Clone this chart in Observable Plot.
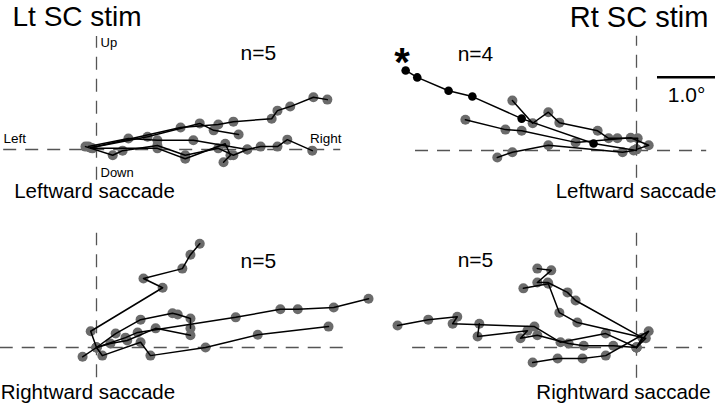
<!DOCTYPE html>
<html><head><meta charset="utf-8">
<script src="https://cdn.jsdelivr.net/npm/d3@7"></script>
<script src="https://cdn.jsdelivr.net/npm/@observablehq/plot@0.6"></script>
<style>
body{margin:0;background:#fff;}
#fig{position:relative;width:720px;height:407px;overflow:hidden;background:#fff;font-family:"Liberation Sans",Arial,sans-serif;}
#fig svg{position:absolute;overflow:visible;}
</style></head><body><div id="fig"></div>
<script>
// eye position traces (degrees), each trace = list of [horizontal, vertical]
const ltLeftward = [
 [[-0.10,0.03],[1.45,0.38],[2.10,0.43],[2.36,0.48],[3.02,0.53],[3.12,0.67],[3.34,0.74],[3.74,0.90],[3.98,0.86]],
 [[-0.10,0.03],[0.88,0.22],[1.78,0.45],[2.02,0.33],[2.45,0.26]],
 [[-0.14,0.05],[0.55,0.19],[1.05,0.16],[1.67,0.16],[2.60,0.00],[2.83,0.05],[3.12,0.05],[3.29,0.17],[3.72,-0.02]],
 [[-0.19,0.05],[0.28,-0.10],[0.45,-0.02],[1.05,0.07],[1.53,-0.10],[2.10,0.02],[2.36,-0.10],[2.60,0.00]],
 [[-0.07,0.02],[1.05,0.02],[1.53,-0.16],[2.22,0.10],[2.31,-0.10],[2.19,-0.22]]
];
const rtLeftward = [
 [[0,0],[-0.74,0.12],[-1.98,0.55],[-2.83,0.93],[-3.24,1.03],[-3.78,1.26],[-3.98,1.38]],
 [[0,0.02],[0.02,0.21],[-0.33,0.21],[-0.48,0.21],[-0.67,0.34],[-1.33,0.48],[-1.52,0.66],[-1.79,0.47],[-2.14,0.86]],
 [[0,0.02],[0.21,0.09],[-0.10,0.22],[-1.05,0.14],[-1.98,0.34],[-2.26,0.36],[-2.95,0.53]],
 [[-0.05,0],[-0.24,-0.03],[-1.52,0.09],[-2.14,-0.03],[-2.40,-0.12]]
];
const rtLeftwardStarred = 0; // trace drawn with black dots (*)
const ltRightward = [
 [[-0.24,-0.16],[0,0],[-0.10,0.28],[1.14,1.03],[0.81,1.19],[1.48,1.36],[1.62,1.60],[1.78,1.79]],
 [[0,0],[0.33,0.24],[0.76,0.48],[1.31,0.59],[1.40,0.57],[1.62,0.50],[1.62,0.33]],
 [[0,0],[0.24,0.07],[0.53,0.12],[1.02,0.33],[1.62,0.21]],
 [[0,0],[0.50,0.17],[0.71,0.26],[2.40,0.52],[3.17,0.66],[3.47,0.66],[4.09,0.69],[4.69,0.84]],
 [[0,0],[0.10,-0.14],[0.76,0.09],[0.93,-0.14],[1.88,0],[2.78,0.22],[4.00,0.36]]
];
const rtRightward = [
 [[0,0],[0.10,0.17],[-1.05,0.81],[-1.19,0.95],[-1.53,1.12],[-1.71,1.12],[-1.47,1.33],[-1.71,1.36]],
 [[0,0],[0.16,0.16],[-1.02,0.43],[-1.33,0.60],[-1.52,1.10],[-1.95,1.02]],
 [[0,0],[-0.53,0.24],[-1.31,0.09],[-1.76,0.36],[-3.17,0.41],[-3.09,0.53],[-3.59,0.48],[-4.12,0.38]],
 [[0,0],[-0.40,0.03],[-0.91,0.03],[-1.17,0.07],[-1.71,0.21],[-2.00,0.16],[-1.88,0.29],[-2.74,0.19],[-2.71,0.41]],
 [[0,0],[0.21,0.28],[-0.53,-0.14],[-0.93,-0.19],[-1.36,-0.19],[-1.79,-0.26]]
];
const columnTitles = ["Lt SC stim", "Rt SC stim"];
const rowLabels = ["Leftward saccade", "Rightward saccade"];
const counts = ["n=5", "n=4", "n=5", "n=5"];
const directionLabels = ["Up", "Down", "Left", "Right"];
const scaleBarDeg = 1.0;

const PX = 58; // pixels per degree
const FONT = "'Liberation Sans', Arial, sans-serif";

function rows(traces, black) {
  return traces.flatMap((tr, k) => tr.map(([x, y], i) => ({trace: k, i, x, y, black: k === black})));
}

function panel(cfg) {
  const data = rows(cfg.traces, cfg.black);
  const dash = {stroke: "#555", strokeWidth: 1.3, strokeDasharray: "13,9"};
  const marks = [
    Plot.ruleY([0], {x1: cfg.h[0], x2: cfg.h[1], ...dash}),
    Plot.ruleX([0], {y1: cfg.v[0], y2: cfg.v[1], ...dash}),
    Plot.dot(data.filter(d => !d.black), {x: "x", y: "y", r: 5, fill: "#6b6b6b", stroke: "none"}),
    Plot.line(data, {x: "x", y: "y", z: "trace", stroke: "#000", strokeWidth: 1.5}),
    Plot.dot(data.filter(d => d.black && d.i > 0), {x: "x", y: "y", r: 4.3, fill: "#000", stroke: "none"})
  ];
  for (const a of cfg.texts) {
    marks.push(Plot.text([a], {x: a.x, y: a.y, text: d => d.t, fontSize: a.size, textAnchor: a.anchor || "middle",
      lineAnchor: a.line || "middle", fontWeight: a.weight || "normal", fill: "#000"}));
  }
  if (cfg.bar) marks.push(Plot.ruleY([cfg.bar.y], {x1: cfg.bar.x, x2: cfg.bar.x + scaleBarDeg, stroke: "#000", strokeWidth: 2.4}));
  const svg = Plot.plot({
    width: 360, height: cfg.height, margin: 0,
    x: {domain: [-cfg.ox / PX, (360 - cfg.ox) / PX], axis: null},
    y: {domain: [-(cfg.height - cfg.oy) / PX, cfg.oy / PX], axis: null},
    style: {fontFamily: FONT, background: "transparent", overflow: "visible"},
    marks
  });
  svg.style.left = cfg.left + "px";
  svg.style.top = cfg.top + "px";
  document.getElementById("fig").appendChild(svg);
}

panel({traces: ltLeftward, left: 0, top: 0, height: 203, ox: 96, oy: 149,
  h: [-1.60, 4.21], v: [-0.53, 1.95],
  texts: [
    {t: columnTitles[0], x: -1.448, y: 2.276, size: 28, anchor: "start"},
    {t: counts[0], x: 2.79, y: 1.655, size: 21},
    {t: directionLabels[0], x: 0.069, y: 1.845, size: 13, anchor: "start"},
    {t: directionLabels[1], x: 0.069, y: -0.40, size: 13, anchor: "start"},
    {t: directionLabels[2], x: -1.603, y: 0.19, size: 13.5, anchor: "start"},
    {t: directionLabels[3], x: 4.224, y: 0.19, size: 13.5, anchor: "end"},
    {t: rowLabels[0], x: -0.034, y: -0.725, size: 20.5}
  ]});
panel({traces: rtLeftward, black: rtLeftwardStarred, left: 360, top: 0, height: 203, ox: 276, oy: 150,
  h: [-3.81, 1.21], v: [-0.48, 1.97],
  bar: {x: 0.362, y: 1.264},
  texts: [
    {t: columnTitles[1], x: -1.15, y: 2.293, size: 29, anchor: "start"},
    {t: "*", x: -4.043, y: 1.776, size: 40, weight: "bold", line: "top"},
    {t: counts[1], x: -2.776, y: 1.664, size: 21},
    {t: scaleBarDeg.toFixed(1) + "°", x: 0.862, y: 0.948, size: 21},
    {t: rowLabels[0], x: -0.009, y: -0.70, size: 20.5}
  ]});
panel({traces: ltRightward, left: 0, top: 203, height: 204, ox: 96, oy: 144,
  h: [-1.66, 4.29], v: [-0.52, 1.97],
  texts: [
    {t: counts[2], x: 2.79, y: 1.483, size: 21},
    {t: rowLabels[1], x: -0.147, y: -0.776, size: 20.5}
  ]});
panel({traces: rtRightward, left: 360, top: 203, height: 204, ox: 276, oy: 144,
  h: [-3.86, 1.14], v: [-0.53, 1.97],
  texts: [
    {t: counts[3], x: -2.776, y: 1.5, size: 21},
    {t: rowLabels[1], x: -0.224, y: -0.776, size: 20.5}
  ]});
</script></body></html>
